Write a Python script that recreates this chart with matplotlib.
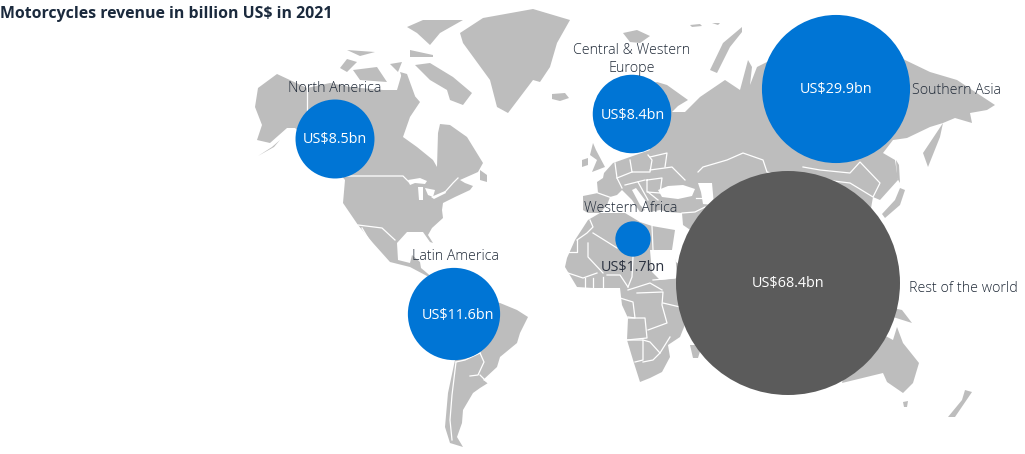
import matplotlib
matplotlib.use('Agg')
import matplotlib.pyplot as plt
from matplotlib.patches import Circle, Polygon

plt.rcParams['font.family'] = ['Open Sans', 'DejaVu Sans']

# The chart values
regions = ['North America', 'Latin America', 'Central & Western\nEurope',
           'Southern Asia', 'Western Africa', 'Rest of the world']
revenue = [8.5, 11.6, 8.4, 29.9, 1.7, 68.4]
value_labels = ['US$8.5bn', 'US$11.6bn', 'US$8.4bn', 'US$29.9bn', 'US$1.7bn', 'US$68.4bn']
title = 'Motorcycles revenue in billion US$ in 2021'

# Where each region sits on the map, in image pixels
bubble_xy = [(335, 139), (454, 314), (632, 114), (836, 89), (633, 239), (788, 283)]
name_xy = [(335, 89), (455, 257), (632, 59.5), (957, 90), (631, 208.5), (963, 289)]
value_xy = [(335, 140), (458, 316), (633, 115), (836, 90), (633, 268), (788, 284)]
bubble_colors = ['#0075d5'] * 5 + ['#5b5b5b']
value_colors = ['white', 'white', 'white', 'white', '#2b3240', 'white']

# Rough hand traced base map, in image pixels
north_america = [(255, 107), (258, 88), (277, 74), (307, 88), (330, 83), (350, 87), (383, 90), (397, 90),
                 (402, 73), (407, 87), (420, 102), (410, 117), (403, 137), (417, 147), (433, 160), (437, 167),
                 (438, 133), (440, 124), (450, 125), (467, 137), (483, 163), (478, 172), (460, 180), (465, 183),
                 (473, 186), (470, 190), (455, 197), (443, 203), (442, 210), (443, 218), (432, 228), (428, 235),
                 (433, 243), (430, 242), (423, 232), (407, 232), (397, 243), (398, 260), (410, 263), (412, 255),
                 (420, 262), (421, 268), (427, 273), (436, 281), (427, 276), (410, 267), (390, 262), (373, 243),
                 (358, 225), (343, 203), (345, 180), (320, 150), (295, 128), (287, 128), (270, 143), (257, 140),
                 (262, 125)]
alaska_tail = [(258, 156), (272, 147), (280, 140), (274, 147)]
newfoundland = [(480, 170), (487, 175), (487, 182), (480, 180)]
baffin = [(415, 65), (430, 63), (453, 77), (472, 93), (463, 105), (450, 100), (447, 90), (430, 80)]
victoria = [(353, 70), (377, 67), (387, 82), (360, 80)]
banks = [(340, 68), (347, 59), (357, 62), (347, 72)]
ellesmere = [(407, 27), (423, 20), (463, 20), (440, 33), (430, 45), (417, 33)]
devon = [(410, 50), (433, 55), (433, 57), (410, 57)]
melville = [(347, 50), (375, 52), (360, 56)]
somerset = [(400, 72), (407, 74), (415, 96), (408, 95)]
prince = [(390, 64), (402, 62), (398, 72)]
greenland = [(460, 33), (483, 18), (533, 9), (570, 20), (557, 43), (550, 67), (540, 82), (533, 80),
             (508, 113), (497, 107), (490, 80), (463, 43)]
iceland = [(552, 94), (565, 93), (569, 98), (560, 101), (552, 99)]
south_america = [(440, 280), (470, 300), (500, 303), (517, 310), (528, 317), (520, 333), (517, 343), (500, 357),
                 (497, 367), (483, 380), (488, 383), (480, 388), (473, 393), (463, 410), (462, 423), (457, 437),
                 (463, 447), (450, 443), (445, 427), (448, 393), (455, 360), (425, 330), (425, 295)]
africa = [(600, 213), (625, 213), (640, 222), (652, 226), (675, 230), (672, 250), (676, 262), (690, 272),
          (695, 300), (680, 337), (668, 345), (670, 357), (662, 372), (650, 378), (640, 382), (633, 360),
          (627, 340), (628, 318), (622, 305), (620, 288), (593, 288), (577, 287), (565, 267), (567, 258),
          (575, 240), (588, 220)]
madagascar = [(690, 345), (702, 345), (698, 358), (693, 358)]
eurasia = [(583, 196), (598, 193), (597, 182), (603, 178), (604, 173), (613, 163), (630, 157), (650, 150),
           (625, 110), (640, 88), (657, 82), (667, 85), (688, 100), (678, 106), (672, 112), (685, 112), (700, 97),
           (725, 80), (740, 90), (748, 60), (752, 67), (750, 85), (757, 67), (850, 20), (905, 60), (930, 72),
           (957, 80), (995, 105), (987, 110), (970, 113), (972, 123), (955, 118), (943, 123), (930, 127),
           (907, 138), (893, 140), (883, 153), (895, 160), (898, 180), (880, 200), (873, 197), (860, 270),
           (720, 270), (705, 240), (683, 225), (682, 213), (668, 212), (660, 210), (655, 211), (650, 212),
           (645, 200), (636, 188), (632, 190), (640, 205), (645, 210), (640, 212), (632, 200), (622, 190),
           (617, 195), (610, 197), (607, 205), (600, 213), (588, 213), (583, 210)]
britain = [(593, 143), (596, 150), (605, 167), (592, 172), (597, 160), (590, 155)]
ireland = [(582, 160), (588, 158), (588, 165), (582, 167)]
svalbard = [(623, 33), (637, 30), (650, 36), (640, 43), (630, 42)]
franz_josef = [(690, 25), (700, 24), (702, 26), (692, 27)]
north_land = [(712, 23), (720, 23), (718, 25)]
novaya_zemlya = [(710, 70), (723, 43), (742, 27), (742, 32), (730, 47), (717, 73)]
kamchatka = [(943, 123), (923, 153), (928, 167), (940, 137)]
sakhalin = [(896, 160), (899, 165), (900, 183), (897, 178)]
japan = [(905, 190), (900, 205), (885, 218), (882, 214), (895, 200), (900, 188)]
australia = [(842, 383), (883, 373), (887, 382), (903, 393), (913, 383), (919, 363), (903, 343), (897, 327),
             (893, 340), (880, 333), (850, 350)]
new_guinea = [(880, 305), (902, 310), (912, 323), (893, 317)]
tasmania = [(903, 402), (908, 401), (907, 407), (904, 407)]
new_zealand = [(948, 417), (955, 417), (972, 392), (965, 390), (962, 400)]
land = [north_america, alaska_tail, newfoundland, baffin, victoria, banks, ellesmere, devon, melville, somerset,
        prince, greenland, iceland, south_america, africa, madagascar, eurasia, britain, ireland, svalbard,
        franz_josef, north_land, novaya_zemlya, kamchatka, sakhalin, japan, australia, new_guinea, tasmania,
        new_zealand]

# inland water and the blank patch south of Egypt, painted white over the land
black_sea = [(658, 190), (668, 186), (683, 185), (695, 189), (692, 196), (678, 199), (662, 197)]
caspian = [(698, 183), (712, 183), (714, 205), (703, 204), (701, 192)]
lake_superior = [(408, 180), (420, 178), (427, 181), (425, 184), (415, 183), (410, 185)]
lake_michigan = [(418, 187), (423, 187), (423, 200), (419, 200)]
lake_huron = [(425, 188), (435, 190), (433, 197), (428, 195)]
lake_erie = [(431, 197), (445, 191), (446, 193), (434, 199)]
sudan_gap = [(650, 250), (675, 250), (677, 278), (660, 280), (652, 272)]
water = [black_sea, caspian, lake_superior, lake_michigan, lake_huron, lake_erie, sudan_gap]

borders = [
    # North America
    [(307, 88), (307, 110)],
    [(345, 176), (403, 176), (410, 183)],
    [(445, 192), (453, 183), (458, 178)],
    [(358, 225), (382, 228), (395, 240)],
    [(362, 228), (372, 245)],
    # South America
    [(456, 362), (452, 395), (450, 420), (452, 440)],
    [(480, 353), (484, 362), (478, 375), (470, 376)],
    [(480, 353), (465, 360), (456, 362)],
    [(480, 375), (488, 383)],
    # Africa
    [(577, 240), (587, 233), (593, 227), (590, 220)],
    [(565, 252), (577, 252), (577, 240)],
    [(588, 243), (588, 257), (603, 273)],
    [(593, 233), (617, 248)],
    [(565, 272), (583, 278), (597, 273)],
    [(593, 278), (593, 288)], [(603, 277), (603, 288)], [(585, 278), (585, 288)],
    [(607, 275), (620, 275), (628, 287)],
    [(628, 287), (632, 277), (633, 257)],
    [(628, 290), (650, 283), (662, 290)],
    [(637, 293), (663, 292), (662, 305), (667, 323), (648, 330)],
    [(620, 298), (633, 302), (635, 318), (628, 317)],
    [(628, 318), (645, 318), (647, 338), (627, 340)],
    [(627, 340), (643, 340), (643, 360), (635, 362)],
    [(643, 340), (650, 342), (660, 353), (653, 360), (643, 362)],
    [(660, 353), (670, 337)],
    [(663, 303), (680, 307)],
    [(653, 280), (675, 278)],
    [(652, 226), (653, 250)],
    # Asia
    [(698, 172), (703, 167), (727, 160), (743, 153), (763, 160), (767, 172), (790, 178)],
    [(803, 167), (820, 170), (850, 173), (860, 162), (880, 183), (873, 197), (850, 183), (825, 180)],
    [(696, 198), (704, 198)],
    [(682, 213), (695, 212), (705, 207)],
    # Europe
    [(598, 193), (612, 198)],
    [(615, 163), (617, 178), (622, 188)],
    [(630, 160), (632, 172), (650, 172), (652, 160), (648, 155)],
    [(650, 170), (672, 167), (685, 180)],
    [(650, 157), (667, 153), (665, 167)],
    [(647, 180), (662, 178), (660, 193), (647, 192), (647, 180)],
    [(617, 178), (632, 172)],
    [(625, 185), (645, 180)],
    [(638, 182), (648, 200)],
    [(648, 192), (658, 200)],
]

fig = plt.figure(figsize=(10.25, 4.54), dpi=100)
ax = fig.add_axes([0, 0, 1, 1])
ax.set_xlim(0, 1025)
ax.set_ylim(454, 0)
ax.axis('off')

for shape in land:
    ax.add_patch(Polygon(shape, closed=True, facecolor='#bdbdbd', edgecolor='none', zorder=1))
for shape in water:
    ax.add_patch(Polygon(shape, closed=True, facecolor='white', edgecolor='none', zorder=2))
for line in borders:
    ax.plot([p[0] for p in line], [p[1] for p in line], color='white', lw=0.9, zorder=2)

# Bubble area follows the revenue, biggest bubble is 112 px in radius
max_revenue = max(revenue)
for i in range(len(regions)):
    radius = 112 * (revenue[i] / max_revenue) ** 0.5
    ax.add_patch(Circle(bubble_xy[i], radius, facecolor=bubble_colors[i], edgecolor='none', zorder=3))
    ax.text(value_xy[i][0], value_xy[i][1], value_labels[i], color=value_colors[i], fontsize=10.4,
            ha='center', va='center', zorder=4)
    ax.text(name_xy[i][0], name_xy[i][1], regions[i], color='#1f2937', fontsize=10.3, fontweight='light',
            ha='center', va='center', linespacing=1.25, zorder=4)

ax.text(0, 14, title, color='#1b2a3d', fontsize=11.45, fontweight='bold', ha='left', va='center', zorder=4)

fig.savefig('out.png', dpi=100)
